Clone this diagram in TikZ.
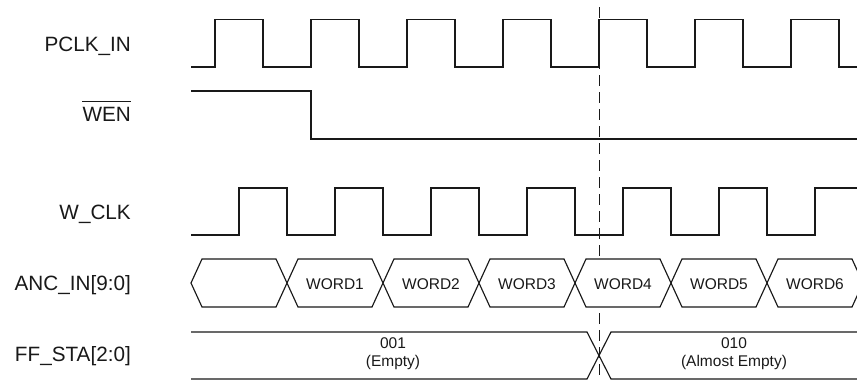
\documentclass[tikz,border=0pt]{standalone}
\usepackage{fontspec}
\setmainfont{Liberation Sans}
\begin{document}
\begin{tikzpicture}[x=1pt,y=-1pt,
  wave/.style={line width=1.15pt, line join=miter, black!90},
  siglabel/.style={anchor=base east, inner sep=0pt, font=\fontsize{20.7}{24}\selectfont, text=black!90},
  datatext/.style={anchor=base, inner sep=0pt, font=\fontsize{15.5}{18}\selectfont, text=black!90},
  marker/.style={line width=1pt, black!90, dash pattern=on 11pt off 6pt}]
\useasboundingbox (0,0) rectangle (857,381);

% labels
\node[siglabel] (pclk) at (131,51.7) {PCLK\_IN};
\node[siglabel] (wen) at (131,121.7) {WEN};
\draw[line width=1pt, black!90] ([yshift=6pt]wen.north west) -- ([yshift=6pt]wen.north east);
\node[siglabel] (wclk) at (131,219) {W\_CLK};
\node[siglabel] (anc) at (131,290.5) {ANC\_IN[9:0]};
\node[siglabel] (ffsta) at (131,361) {FF\_STA[2:0]};

% marker (drawn first; hidden inside the data bus cells)
\draw[marker] (599,7) -- (599,381);

% PCLK_IN
\draw[wave] (191,67) foreach \x in {215,311,...,791} { -- (\x,67) -- (\x,19.5) -- (\x+48,19.5) -- (\x+48,67) } -- (857,67);

% WEN
\draw[wave] (191,91) -- (311,91) -- (311,139) -- (857,139);

% W_CLK
\draw[wave] (191,235) foreach \x in {239,335,...,719} { -- (\x,235) -- (\x,188) -- (\x+48,188) -- (\x+48,235) } -- (815,235) -- (815,188) -- (857,188);

% ANC_IN bus
\foreach \a/\b in {191/287, 287/383, 383/479, 479/575, 575/671, 671/767, 767/863}
  \draw[wave, fill=white] (\a,283) -- (\a+11,259) -- (\b-11,259) -- (\b,283) -- (\b-11,307) -- (\a+11,307) -- cycle;
\node[datatext] (w1) at (335,289) {WORD1};
\node[datatext] (w2) at (431,289) {WORD2};
\node[datatext] (w3) at (527,289) {WORD3};
\node[datatext] (w4) at (623,289) {WORD4};
\node[datatext] (w5) at (719,289) {WORD5};
\node[datatext] (w6) at (815,289) {WORD6};

% FF_STA bus
\draw[wave] (191,332) -- (587,332) -- (611,379) -- (857,379);
\draw[wave] (191,379) -- (587,379) -- (611,332) -- (857,332);
\node[datatext] (s1a) at (393,348.3) {001};
\node[datatext] (s1b) at (393,366) {(Empty)};
\node[datatext] (s2a) at (734,348.3) {010};
\node[datatext] (s2b) at (734,366) {(Almost Empty)};
\end{tikzpicture}
\end{document}
